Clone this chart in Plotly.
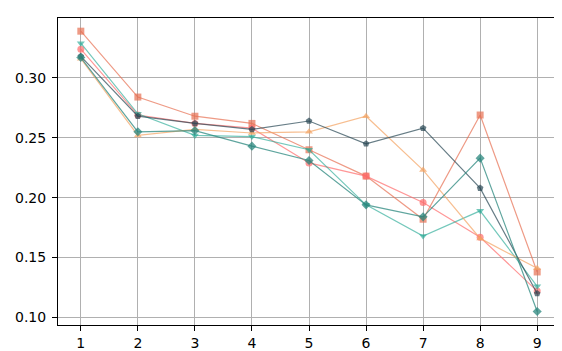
import plotly.graph_objects as go

# ── Data ──────────────────────────────────────────────────────────────────────
steps = [1, 2, 3, 4, 5, 6, 7, 8, 9]

s_square   = [0.339, 0.284, 0.268, 0.262, 0.240, 0.218, 0.182, 0.269, 0.138]
s_circle   = [0.324, 0.269, 0.262, 0.258, 0.229, 0.218, 0.196, 0.167, 0.122]
s_tri_down = [0.329, 0.270, 0.252, 0.251, 0.240, 0.194, 0.168, 0.189, 0.126]
s_tri_up   = [0.316, 0.252, 0.257, 0.254, 0.255, 0.268, 0.223, 0.166, 0.141]
s_pentagon = [0.318, 0.268, 0.262, 0.257, 0.264, 0.245, 0.258, 0.208, 0.120]
s_diamond  = [0.317, 0.255, 0.256, 0.243, 0.231, 0.194, 0.184, 0.233, 0.105]

y_ticks = [0.10, 0.15, 0.20, 0.25, 0.30]

# ── Style tokens ──────────────────────────────────────────────────────────────
_FONT = "DejaVu Sans, sans-serif"
_GRID = "#b0b0b0"

series = [
    (s_square,   "square",        "rgba(231,111,81,0.7)"),
    (s_circle,   "circle",        "rgba(255,107,107,0.7)"),
    (s_tri_down, "triangle-down", "rgba(42,170,150,0.65)"),
    (s_tri_up,   "triangle-up",   "rgba(244,162,97,0.7)"),
    (s_pentagon, "pentagon",      "rgba(38,70,83,0.7)"),
    (s_diamond,  "diamond",       "rgba(42,135,125,0.75)"),
]

fig = go.Figure()
for vals, sym, col in series:
    fig.add_trace(go.Scatter(
        x=steps, y=vals,
        mode="lines+markers",
        line=dict(color=col, width=1.2),
        marker=dict(symbol=sym, size=7, color=col, line=dict(width=0)),
        showlegend=False,
    ))

axis_common = dict(
    showline=True, linecolor="black", linewidth=1, mirror=True,
    showgrid=True, gridcolor=_GRID, gridwidth=1,
    zeroline=False,
    ticks="outside", ticklen=5, tickcolor="black", tickwidth=1,
    tickfont=dict(family=_FONT, size=14, color="black"),
)

fig.update_layout(
    template=None,
    width=562, height=351,
    paper_bgcolor="white",
    plot_bgcolor="white",
    margin=dict(l=50, r=10, t=10, b=34),
    xaxis=dict(range=[0.6, 9.4], tickvals=steps, ticklabelstandoff=0, **axis_common),
    yaxis=dict(range=[0.0937, 0.35], tickvals=y_ticks, tickformat=".2f",
               ticklabelstandoff=3, **axis_common),
)

fig.write_html("out.html")
